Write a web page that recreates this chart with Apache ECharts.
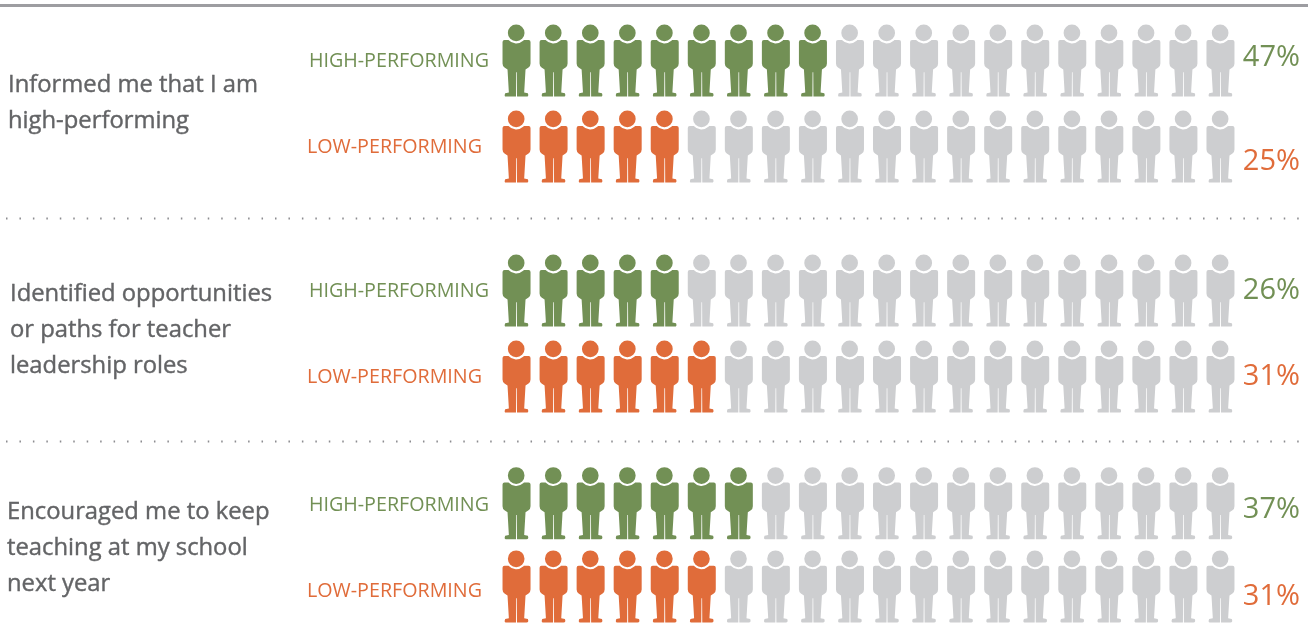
<!DOCTYPE html>
<html>
<head>
<meta charset="utf-8">
<style>html,body{margin:0;padding:0;background:#fff}#c{width:1308px;height:628px}</style>
<script src="https://cdn.jsdelivr.net/npm/echarts@6/dist/echarts.min.js"></script>
</head>
<body>
<div id="c"></div>
<script>
const questions = [
  ['Informed me that I am', 'high-performing'],
  ['Identified opportunities', 'or paths for teacher', 'leadership roles'],
  ['Encouraged me to keep', 'teaching at my school', 'next year']
];
const rowNames = ['HIGH-PERFORMING', 'LOW-PERFORMING'];
const highValues = [47, 26, 37];
const lowValues = [25, 31, 31];
const highIcons = [9, 5, 7];
const lowIcons = [5, 6, 6];
const iconSlots = Array.from({length: 20}, (_, i) => i);

const GREEN = '#729055', ORANGE = '#e06c3a', GREY = '#cdced0', TEXT = '#636466';
const FONT = '"Open Sans"';
const PERSON = 'path://M16 27A25 25 0 1 1 66 27A25 25 0 1 1 16 27ZM6 48L18 48A31 31 0 0 0 64 48L78 48Q84 48 84 54L84 118Q84 126 78 130L69 136L65 204L76 206Q80 216 72 216L43.5 216L43 144L41 144L40.5 216L10 216Q4 216 8 206L19 204L15 136L6 130Q0 126 0 118L0 54Q0 48 6 48Z';

const gridTops = [17.5, 247.5, 461.5];
const questionTops = [[85, 121], [294, 330, 366], [512, 548, 584]];
const questionLefts = [8, 10, 7];
const pctY = [[58, 162], [291, 377], [510, 597]];
const labelRight = [489, 482];

const grid = [], xAxis = [], yAxis = [], series = [], graphic = [];
gridTops.forEach((top, g) => {
  grid.push({left: 498, width: 741, top, height: 172});
  xAxis.push({type: 'category', gridIndex: g, data: iconSlots, show: false});
  yAxis.push({type: 'category', gridIndex: g, data: rowNames, inverse: true, show: false});
  [[highIcons[g], GREEN], [lowIcons[g], ORANGE]].forEach(([count, color], r) => {
    series.push({
      type: 'scatter', xAxisIndex: g, yAxisIndex: g, silent: true, animation: false,
      symbol: PERSON, symbolSize: [28, 72],
      itemStyle: {opacity: 1},
      data: iconSlots.map(i => ({value: [i, r], itemStyle: {color: i < count ? color : GREY, opacity: 1}}))
    });
  });
  questions[g].forEach((line, i) => graphic.push({
    type: 'text', x: questionLefts[g], y: questionTops[g][i],
    style: {text: line, font: '400 23.8px ' + FONT, fill: TEXT, stroke: TEXT, lineWidth: 0.4, textVerticalAlign: 'middle'}
  }));
  const rowY = [top + 44, top + 130];
  rowNames.forEach((name, r) => graphic.push({
    type: 'text', x: labelRight[r], y: rowY[r],
    style: {text: name, font: '400 19.7px ' + FONT, fill: r ? ORANGE : GREEN,
      textAlign: 'right', textVerticalAlign: 'middle'}
  }));
  [highValues[g], lowValues[g]].forEach((v, r) => graphic.push({
    type: 'text', x: 1300, y: pctY[g][r],
    style: {text: v + '%', font: '400 29px ' + FONT, fill: r ? ORANGE : GREEN,
      textAlign: 'right', textVerticalAlign: 'middle'}
  }));
});
graphic.push({type: 'rect', shape: {x: 0, y: 4, width: 1308, height: 3}, style: {fill: '#9d9da1'}});
[218.5, 441.5].forEach(y => graphic.push({
  type: 'line', shape: {x1: 6, y1: y, x2: 1302, y2: y},
  style: {stroke: '#8c8c90', lineWidth: 2, lineDash: [1.5, 11.95]}
}));

const chart = echarts.init(document.getElementById('c'), null, {renderer: 'canvas'});
chart.setOption({animation: false, backgroundColor: '#fff', grid, xAxis, yAxis, series, graphic});
</script>
</body>
</html>
